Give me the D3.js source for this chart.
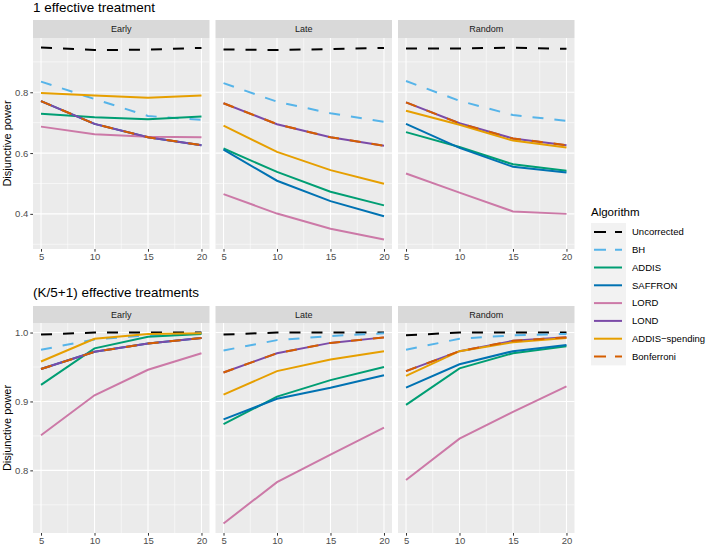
<!DOCTYPE html>
<html>
<head>
<meta charset="utf-8">
<script src="https://cdn.jsdelivr.net/npm/d3@7"></script>
<style>
  body { margin: 0; background: #fff; }
  text { font-family: "Liberation Sans", Arial, sans-serif; }
</style>
</head>
<body>
<script>
const width = 709;
const height = 550;

const ks = [5, 10, 15, 20];
const panels = ['Early', 'Late', 'Random'];
const algorithms = ['Uncorrected', 'BH', 'ADDIS', 'SAFFRON', 'LORD', 'LOND', 'ADDIS\u2212spending', 'Bonferroni'];
const colors = ['#000000', '#56B4E9', '#009E73', '#0072B2', '#CC79A7', '#7B4BA8', '#E69F00', '#D55E00'];
const dashed = [true, true, false, false, false, false, false, true];

// one effective treatment, rows follow the algorithm order
const oneEarly = [
    [0.947, 0.939, 0.940, 0.946],
    [0.835, 0.778, 0.722, 0.709],
    [0.729, 0.718, 0.711, 0.720],
    [0.771, 0.696, 0.652, 0.626],
    [0.687, 0.662, 0.654, 0.652],
    [0.771, 0.696, 0.652, 0.626],
    [0.798, 0.789, 0.782, 0.789],
    [0.771, 0.696, 0.652, 0.626]
];
const oneLate = [
    [0.941, 0.939, 0.942, 0.946],
    [0.830, 0.769, 0.731, 0.703],
    [0.615, 0.538, 0.473, 0.428],
    [0.611, 0.509, 0.442, 0.392],
    [0.465, 0.401, 0.351, 0.316],
    [0.764, 0.695, 0.652, 0.624],
    [0.690, 0.604, 0.544, 0.499],
    [0.764, 0.695, 0.652, 0.624]
];
const oneRandom = [
    [0.944, 0.944, 0.947, 0.943],
    [0.837, 0.772, 0.725, 0.706],
    [0.669, 0.620, 0.563, 0.542],
    [0.696, 0.617, 0.555, 0.536],
    [0.533, 0.470, 0.408, 0.400],
    [0.767, 0.698, 0.648, 0.626],
    [0.739, 0.693, 0.641, 0.618],
    [0.767, 0.698, 0.648, 0.626]
];

// (K/5+1) effective treatments
const manyEarly = [
    [0.997, 1.000, 1.000, 1.000],
    [0.975, 0.990, 0.996, 0.999],
    [0.924, 0.977, 0.994, 0.998],
    [0.947, 0.972, 0.984, 0.992],
    [0.851, 0.909, 0.946, 0.970],
    [0.947, 0.972, 0.984, 0.992],
    [0.958, 0.991, 0.998, 0.999],
    [0.947, 0.972, 0.984, 0.992]
];
const manyLate = [
    [0.997, 1.000, 1.000, 1.000],
    [0.974, 0.989, 0.995, 0.999],
    [0.867, 0.907, 0.931, 0.950],
    [0.874, 0.904, 0.920, 0.938],
    [0.723, 0.783, 0.823, 0.862],
    [0.942, 0.970, 0.985, 0.993],
    [0.910, 0.944, 0.961, 0.973],
    [0.942, 0.970, 0.985, 0.993]
];
const manyRandom = [
    [0.996, 1.000, 1.000, 1.000],
    [0.975, 0.991, 0.996, 0.998],
    [0.895, 0.948, 0.970, 0.980],
    [0.920, 0.954, 0.973, 0.982],
    [0.786, 0.846, 0.885, 0.922],
    [0.944, 0.973, 0.988, 0.993],
    [0.937, 0.973, 0.986, 0.992],
    [0.944, 0.973, 0.988, 0.993]
];

const topTicks = [0.4, 0.6, 0.8];
const topMinor = [0.3, 0.5, 0.7, 0.9];
const bottomTicks = [0.8, 0.9, 1.0];
const bottomMinor = [0.75, 0.85, 0.95];
const xMinor = [7.5, 12.5, 17.5];

const rows = [
    { title: '1 effective treatment', data: [oneEarly, oneLate, oneRandom], ticks: topTicks, minor: topMinor, fmt: d3.format('.1f'), titleY: 12, stripTop: 20, top: 38, bottom: 249 },
    { title: '(K/5+1) effective treatments', data: [manyEarly, manyLate, manyRandom], ticks: bottomTicks, minor: bottomMinor, fmt: d3.format('.1f'), titleY: 297, stripTop: 306, top: 323, bottom: 533 }
];

const panelLeft = [33, 215.5, 398];
const panelW = 176.5;
const dash = '11,11';

const svg = d3.select('body').append('svg').attr('width', width).attr('height', height);

// ggplot style 5% expansion
function expand(ext) {
    const r = ext[1] - ext[0];
    return [ext[0] - 0.05 * r, ext[1] + 0.05 * r];
}

rows.forEach(row => {
    const all = row.data.flat(2);
    const y = d3.scaleLinear().domain(expand(d3.extent(all))).range([row.bottom, row.top]);

    svg.append('text')
        .attr('x', panelLeft[0]).attr('y', row.titleY)
        .attr('font-size', 13.5).attr('fill', '#000')
        .text(row.title);

    svg.append('text')
        .attr('transform', `translate(11,${(row.top + row.bottom) / 2}) rotate(-90)`)
        .attr('text-anchor', 'middle')
        .attr('font-size', 11).attr('fill', '#000')
        .text('Disjunctive power');

    panels.forEach((name, pi) => {
        const x0 = panelLeft[pi];
        const x = d3.scaleLinear().domain(expand(d3.extent(ks))).range([x0, x0 + panelW]);
        const g = svg.append('g');

        // strip
        g.append('rect').attr('x', x0).attr('y', row.stripTop)
            .attr('width', panelW).attr('height', row.top - row.stripTop).attr('fill', '#D9D9D9');
        g.append('text').attr('x', x0 + panelW / 2).attr('y', (row.stripTop + row.top) / 2)
            .attr('dy', '0.35em').attr('text-anchor', 'middle')
            .attr('font-size', 9).attr('fill', '#1A1A1A').text(name);

        // panel background
        g.append('rect').attr('x', x0).attr('y', row.top)
            .attr('width', panelW).attr('height', row.bottom - row.top).attr('fill', '#EBEBEB');

        // grid
        g.selectAll('.hminor').data(row.minor).enter().append('line')
            .attr('x1', x0).attr('x2', x0 + panelW)
            .attr('y1', d => y(d)).attr('y2', d => y(d))
            .attr('stroke', '#fff').attr('stroke-width', 0.55);
        g.selectAll('.vminor').data(xMinor).enter().append('line')
            .attr('y1', row.top).attr('y2', row.bottom)
            .attr('x1', d => x(d)).attr('x2', d => x(d))
            .attr('stroke', '#fff').attr('stroke-width', 0.55);
        g.selectAll('.hmajor').data(row.ticks).enter().append('line')
            .attr('x1', x0).attr('x2', x0 + panelW)
            .attr('y1', d => y(d)).attr('y2', d => y(d))
            .attr('stroke', '#fff').attr('stroke-width', 1.1);
        g.selectAll('.vmajor').data(ks).enter().append('line')
            .attr('y1', row.top).attr('y2', row.bottom)
            .attr('x1', d => x(d)).attr('x2', d => x(d))
            .attr('stroke', '#fff').attr('stroke-width', 1.1);

        // x axis
        const xAxis = g.append('g').attr('transform', `translate(0,${row.bottom})`)
            .call(d3.axisBottom(x).tickValues(ks).tickSize(2.7).tickPadding(2));
        xAxis.select('.domain').remove();
        xAxis.selectAll('line').attr('stroke', '#333');
        xAxis.selectAll('text').attr('font-size', 9.5).attr('fill', '#4D4D4D')
            .attr('font-family', '"Liberation Sans", Arial, sans-serif');

        if (pi === 0) {
            const yAxis = g.append('g').attr('transform', `translate(${x0},0)`)
                .call(d3.axisLeft(y).tickValues(row.ticks).tickFormat(row.fmt).tickSize(2.7).tickPadding(2));
            yAxis.select('.domain').remove();
            yAxis.selectAll('line').attr('stroke', '#333');
            yAxis.selectAll('text').attr('font-size', 9.5).attr('fill', '#4D4D4D')
                .attr('font-family', '"Liberation Sans", Arial, sans-serif');
        }

        const line = d3.line().x((d, i) => x(ks[i])).y(d => y(d));
        g.selectAll('.series').data(row.data[pi]).enter().append('path')
            .attr('d', d => line(d))
            .attr('fill', 'none')
            .attr('stroke', (d, i) => colors[i])
            .attr('stroke-width', 2)
            .attr('stroke-dasharray', (d, i) => dashed[i] ? dash : null);
    });
});

// legend
const lg = svg.append('g').attr('transform', 'translate(591,0)');
lg.append('text').attr('x', 0).attr('y', 216).attr('font-size', 11.5).attr('fill', '#000').text('Algorithm');
const keyTop = 223;
const keyH = 17.8;
lg.append('rect').attr('x', 0).attr('y', keyTop).attr('width', 35).attr('height', keyH * algorithms.length)
    .attr('fill', '#F2F2F2');
algorithms.forEach((a, i) => {
    const cy = keyTop + keyH * (i + 0.5);
    lg.append('line').attr('x1', 3).attr('x2', 31).attr('y1', cy).attr('y2', cy)
        .attr('stroke', colors[i]).attr('stroke-width', 2)
        .attr('stroke-dasharray', dashed[i] ? '12,9' : null);
    lg.append('text').attr('x', 41).attr('y', cy).attr('dy', '0.35em')
        .attr('font-size', 9.5).attr('fill', '#000').text(a);
});
</script>
</body>
</html>
